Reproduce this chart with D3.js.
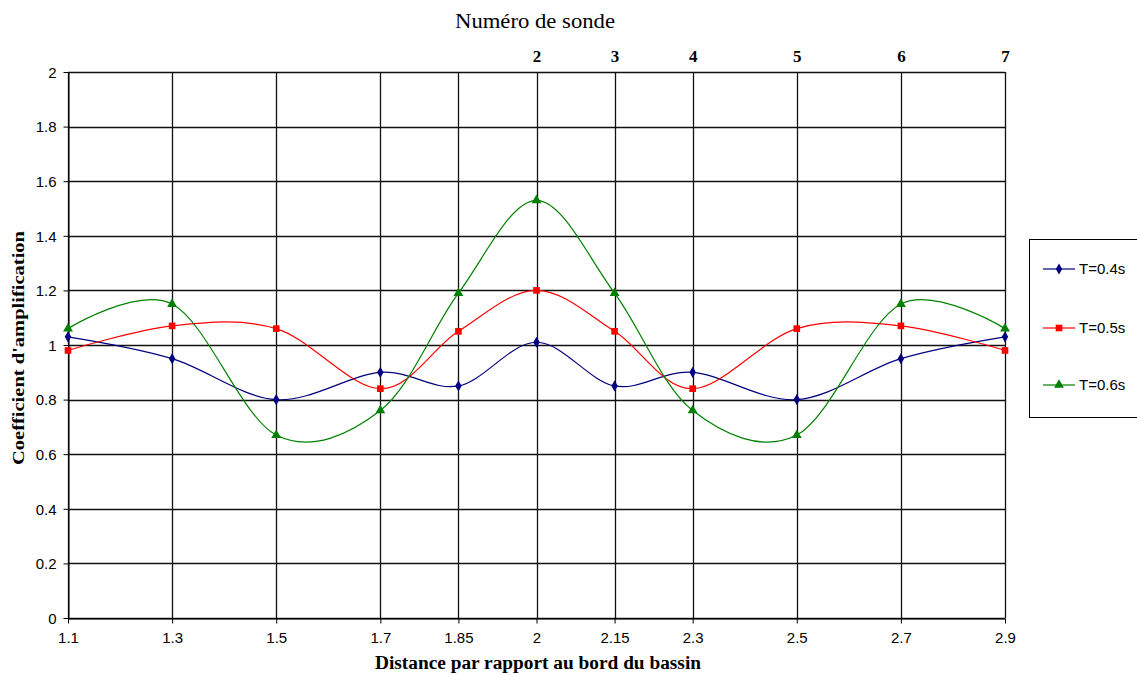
<!DOCTYPE html>
<html><head><meta charset="utf-8">
<script src="https://cdn.jsdelivr.net/npm/d3@7"></script>
<style>body{margin:0;background:#fff}svg{display:block}</style>
</head><body>
<script>
const distances = [1.1, 1.3, 1.5, 1.7, 1.85, 2, 2.15, 2.3, 2.5, 2.7, 2.9];
const t04 = [1.03, 0.95, 0.80, 0.90, 0.85, 1.01, 0.85, 0.90, 0.80, 0.95, 1.03];
const t05 = [0.98, 1.07, 1.06, 0.84, 1.05, 1.20, 1.05, 0.84, 1.06, 1.07, 0.98];
const t06 = [1.06, 1.15, 0.67, 0.76, 1.19, 1.53, 1.19, 0.76, 0.67, 1.15, 1.06];
const probePositions = [2, 2.15, 2.3, 2.5, 2.7, 2.9];
const probeLabels = ["2", "3", "4", "5", "6", "7"];
const yTicks = [0, 0.2, 0.4, 0.6, 0.8, 1, 1.2, 1.4, 1.6, 1.8, 2];
const seriesNames = ["T=0.4s", "T=0.5s", "T=0.6s"];

const W = 1137, H = 674;
const L = 68, R = 1005, T = 72, B = 618;
const svg = d3.select("body").append("svg").attr("width", W).attr("height", H);
const x = d3.scaleLinear().domain([1.1, 2.9]).range([L, R]);
const y = d3.scaleLinear().domain([0, 2]).range([B, T]);
const sans = "Liberation Sans, Arial, sans-serif";
const serif = "Liberation Serif, Times New Roman, serif";

// grid
svg.append("g").selectAll("line").data(yTicks).join("line")
  .attr("x1", L).attr("x2", R).attr("y1", d => Math.round(y(d)) + 0.5).attr("y2", d => Math.round(y(d)) + 0.5)
  .attr("stroke", "#111").attr("stroke-width", 1.3);
svg.append("g").selectAll("line").data(distances).join("line")
  .attr("y1", T).attr("y2", B).attr("x1", d => Math.round(x(d)) + 0.5).attr("x2", d => Math.round(x(d)) + 0.5)
  .attr("stroke", "#111").attr("stroke-width", 1.3);

// axes
const yAxis = d3.axisLeft(y).tickValues(yTicks).tickSize(5).tickSizeOuter(0).tickPadding(7).tickFormat(d3.format("~g"));
const gy = svg.append("g").attr("transform", `translate(${L + 0.5},0)`).call(yAxis);
const xAxis = d3.axisBottom(x).tickValues(distances).tickSize(5).tickSizeOuter(0).tickPadding(9).tickFormat(d3.format("~g"));
const gx = svg.append("g").attr("transform", `translate(0,${B + 0.5})`).call(xAxis);
[gy, gx].forEach(g => {
  g.attr("font-size", null).attr("font-family", null);
  g.selectAll("text").style("font-family", sans).style("font-size", "15px").attr("fill", "#000");
  g.selectAll("line,path").attr("stroke", "#000");
});
gy.selectAll("text").attr("dy", "0.35em");

// top axis (probe numbers)
const xTop = d3.axisTop(x).tickValues(probePositions).tickSize(0).tickPadding(10).tickFormat((d, i) => probeLabels[i]);
const gt = svg.append("g").attr("transform", `translate(0,${T})`).call(xTop);
gt.select(".domain").remove();
gt.selectAll("text").style("font-family", serif).style("font-size", "17px").attr("font-weight", "bold").attr("fill", "#000");

// titles
svg.append("text").attr("x", 535).attr("y", 28).attr("text-anchor", "middle")
  .attr("font-family", serif).attr("font-size", 20)
  .attr("textLength", 160).attr("lengthAdjust", "spacingAndGlyphs").text("Numéro de sonde");
svg.append("text").attr("x", 538).attr("y", 669).attr("text-anchor", "middle")
  .attr("font-family", serif).attr("font-size", 18).attr("font-weight", "bold")
  .attr("textLength", 326).attr("lengthAdjust", "spacingAndGlyphs")
  .text("Distance par rapport au bord du bassin");
svg.append("text").attr("transform", "translate(24,348) rotate(-90)").attr("text-anchor", "middle")
  .attr("font-family", serif).attr("font-size", 17).attr("font-weight", "bold")
  .attr("textLength", 234).attr("lengthAdjust", "spacingAndGlyphs")
  .text("Coefficient d'amplification");

// series
const series = [
  {name: seriesNames[0], values: t04, color: "#000080", sym: d3.symbolDiamond, size: 36},
  {name: seriesNames[1], values: t05, color: "#FF0000", sym: d3.symbolSquare, size: 44},
  {name: seriesNames[2], values: t06, color: "#008000", sym: d3.symbolTriangle, size: 42},
];
const line = d3.line().x(d => x(d[0])).y(d => y(d[1])).curve(d3.curveCardinal.tension(0));
series.forEach(s => {
  const pts = distances.map((d, i) => [d, s.values[i]]);
  svg.append("path").attr("d", line(pts)).attr("fill", "none").attr("stroke", s.color).attr("stroke-width", 1.2);
  svg.append("g").selectAll("path").data(pts).join("path")
    .attr("transform", d => `translate(${x(d[0])},${y(d[1])})`)
    .attr("d", d3.symbol().type(s.sym).size(s.size)).attr("fill", s.color);
});

// legend
const lg = svg.append("g");
lg.append("rect").attr("x", 1029.5).attr("y", 239.5).attr("width", 120).attr("height", 178)
  .attr("fill", "#fff").attr("stroke", "#000").attr("stroke-width", 1);
const rows = [269, 328, 385];
series.forEach((s, i) => {
  lg.append("line").attr("x1", 1043).attr("x2", 1075).attr("y1", rows[i]).attr("y2", rows[i]).attr("stroke", s.color).attr("stroke-width", 1.2);
  lg.append("path").attr("transform", `translate(1059,${rows[i]})`).attr("d", d3.symbol().type(s.sym).size(s.size)).attr("fill", s.color);
  lg.append("text").attr("x", 1079).attr("y", rows[i]).attr("dy", "0.35em")
    .attr("font-family", sans).attr("font-size", 15).text(s.name);
});
</script>
</body></html>
